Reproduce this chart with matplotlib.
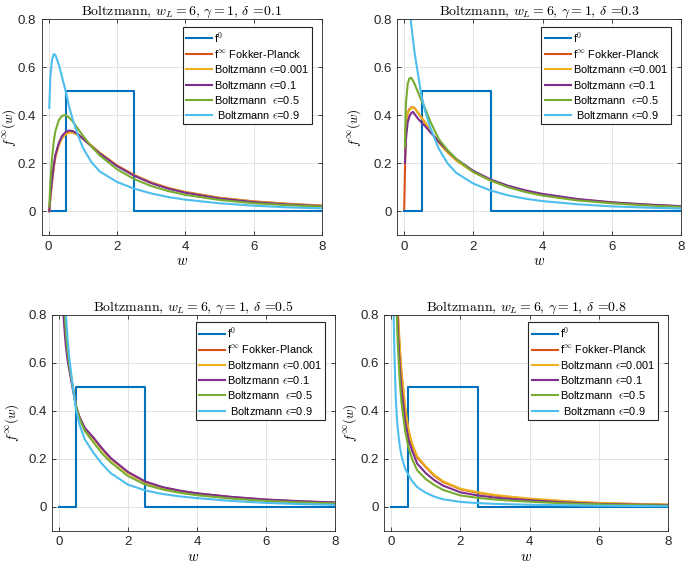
import numpy as np
import matplotlib
matplotlib.use("Agg")
import matplotlib.pyplot as plt
from matplotlib.ticker import FuncFormatter

plt.rcParams['font.family'] = ['Liberation Sans', 'DejaVu Sans']
plt.rcParams['mathtext.fontset'] = 'cm'
plt.rcParams['axes.unicode_minus'] = False

# initial datum f^0 (step function)
w0 = [0.0, 0.5, 0.5, 2.5, 2.5, 8.0]
f0 = [0.0, 0.0, 0.5, 0.5, 0.0, 0.0]

deltas = ["0.1", "0.3", "0.5", "0.8"]

# ---- delta = 0.1 ----
w_d1 = [0.02, 0.05, 0.1, 0.15, 0.2, 0.3, 0.4, 0.5, 0.6, 0.7, 0.85, 1.0, 1.25, 1.5, 2.0, 2.5, 3.0, 3.5, 4.0, 5.0, 6.0, 7.0, 8.0]
fp_d1 = [0.0, 0.058, 0.125, 0.185, 0.23, 0.28, 0.31, 0.325, 0.33, 0.33, 0.32, 0.303, 0.273, 0.243, 0.191, 0.151, 0.12, 0.097, 0.08, 0.056, 0.041, 0.031, 0.023]
e001_d1 = [0.0, 0.055, 0.12, 0.18, 0.225, 0.275, 0.305, 0.32, 0.327, 0.327, 0.318, 0.302, 0.272, 0.242, 0.19, 0.15, 0.119, 0.096, 0.079, 0.055, 0.04, 0.03, 0.022]
e01_d1 = [0.0, 0.06, 0.13, 0.19, 0.235, 0.285, 0.315, 0.33, 0.336, 0.334, 0.322, 0.303, 0.27, 0.24, 0.188, 0.148, 0.117, 0.094, 0.077, 0.053, 0.038, 0.028, 0.021]
e05_d1 = [0.02, 0.12, 0.22, 0.29, 0.335, 0.38, 0.398, 0.40, 0.39, 0.375, 0.345, 0.315, 0.27, 0.232, 0.175, 0.134, 0.105, 0.084, 0.068, 0.047, 0.033, 0.025, 0.019]
e09_d1 = [0.43, 0.56, 0.63, 0.655, 0.65, 0.61, 0.555, 0.50, 0.435, 0.385, 0.32, 0.265, 0.205, 0.165, 0.122, 0.094, 0.074, 0.059, 0.048, 0.033, 0.023, 0.016, 0.012]

# ---- delta = 0.3 ----
w_d3 = [0.0, 0.02, 0.05, 0.1, 0.15, 0.2, 0.25, 0.3, 0.4, 0.5, 0.6, 0.75, 1.0, 1.25, 1.5, 2.0, 2.5, 3.0, 3.5, 4.0, 5.0, 6.0, 7.0, 8.0]
fp_d3 = [0.01, 0.16, 0.36, 0.41, 0.425, 0.432, 0.433, 0.43, 0.41, 0.39, 0.37, 0.335, 0.287, 0.247, 0.213, 0.164, 0.129, 0.103, 0.084, 0.069, 0.049, 0.036, 0.027, 0.02]
e001_d3 = [np.nan, 0.2, 0.36, 0.41, 0.42, 0.43, 0.432, 0.43, 0.41, 0.39, 0.37, 0.335, 0.285, 0.245, 0.212, 0.163, 0.128, 0.102, 0.083, 0.068, 0.048, 0.035, 0.026, 0.02]
e01_d3 = [np.nan, 0.2, 0.3, 0.37, 0.395, 0.408, 0.414, 0.405, 0.385, 0.37, 0.355, 0.33, 0.29, 0.252, 0.218, 0.168, 0.132, 0.106, 0.087, 0.072, 0.051, 0.037, 0.028, 0.021]
e05_d3 = [np.nan, 0.27, 0.45, 0.53, 0.553, 0.556, 0.545, 0.53, 0.495, 0.46, 0.43, 0.375, 0.30, 0.255, 0.218, 0.163, 0.128, 0.1, 0.08, 0.065, 0.045, 0.033, 0.024, 0.018]
e09_d3 = [np.nan, 2.5, 1.6, 1.15, 0.9, 0.78, 0.72, 0.66, 0.57, 0.48, 0.42, 0.35, 0.26, 0.2, 0.16, 0.115, 0.086, 0.066, 0.052, 0.042, 0.029, 0.02, 0.015, 0.011]

# ---- delta = 0.5 ----
w_d5 = [0.02, 0.05, 0.1, 0.13, 0.15, 0.17, 0.2, 0.25, 0.3, 0.4, 0.5, 0.6, 0.75, 1.0, 1.25, 1.5, 2.0, 2.5, 3.0, 3.5, 4.0, 5.0, 6.0, 7.0, 8.0]
fp_d5 = [3.0, 1.6, 0.95, 0.84, 0.8, 0.76, 0.7, 0.63, 0.585, 0.5, 0.415, 0.37, 0.325, 0.285, 0.24, 0.2, 0.142, 0.103, 0.08, 0.066, 0.055, 0.04, 0.029, 0.022, 0.017]
e001_d5 = [3.0, 1.6, 0.95, 0.84, 0.8, 0.76, 0.7, 0.63, 0.585, 0.5, 0.415, 0.37, 0.325, 0.284, 0.239, 0.199, 0.141, 0.102, 0.079, 0.065, 0.054, 0.039, 0.028, 0.021, 0.016]
e01_d5 = [2.8, 1.5, 0.9, 0.8, 0.76, 0.72, 0.67, 0.61, 0.57, 0.49, 0.415, 0.372, 0.328, 0.288, 0.243, 0.203, 0.145, 0.105, 0.082, 0.067, 0.056, 0.041, 0.03, 0.023, 0.018]
e05_d5 = [3.0, 1.7, 1.0, 0.88, 0.84, 0.8, 0.73, 0.65, 0.59, 0.5, 0.415, 0.365, 0.315, 0.268, 0.222, 0.185, 0.128, 0.092, 0.072, 0.058, 0.048, 0.034, 0.024, 0.018, 0.014]
e09_d5 = [3.5, 2.0, 1.15, 0.98, 0.9, 0.86, 0.8, 0.7, 0.62, 0.5, 0.4, 0.34, 0.28, 0.225, 0.178, 0.14, 0.092, 0.068, 0.053, 0.043, 0.036, 0.024, 0.016, 0.011, 0.008]

# ---- delta = 0.8 ----
w_d8 = [0.02, 0.05, 0.07, 0.1, 0.13, 0.16, 0.18, 0.2, 0.25, 0.3, 0.4, 0.5, 0.6, 0.75, 1.0, 1.25, 1.5, 2.0, 2.5, 3.0, 3.5, 4.0, 5.0, 6.0, 7.0, 8.0]
fp_d8 = [4.0, 2.0, 1.6, 1.2, 1.0, 0.88, 0.83, 0.78, 0.65, 0.55, 0.41, 0.315, 0.26, 0.205, 0.165, 0.128, 0.103, 0.073, 0.058, 0.047, 0.039, 0.032, 0.022, 0.015, 0.011, 0.008]
e001_d8 = [4.0, 2.0, 1.6, 1.2, 1.0, 0.9, 0.85, 0.8, 0.66, 0.56, 0.42, 0.32, 0.265, 0.21, 0.168, 0.132, 0.106, 0.075, 0.06, 0.049, 0.041, 0.034, 0.024, 0.016, 0.012, 0.009]
e01_d8 = [3.5, 1.8, 1.4, 1.05, 0.92, 0.84, 0.8, 0.72, 0.58, 0.49, 0.36, 0.28, 0.235, 0.18, 0.14, 0.11, 0.088, 0.06, 0.047, 0.038, 0.032, 0.027, 0.018, 0.012, 0.009, 0.007]
e05_d8 = [3.2, 1.7, 1.3, 1.0, 0.88, 0.8, 0.72, 0.65, 0.52, 0.43, 0.32, 0.245, 0.2, 0.152, 0.115, 0.09, 0.07, 0.047, 0.037, 0.03, 0.025, 0.021, 0.014, 0.01, 0.007, 0.005]
e09_d8 = [2.0, 1.0, 0.8, 0.6, 0.46, 0.38, 0.34, 0.31, 0.25, 0.21, 0.16, 0.132, 0.108, 0.082, 0.058, 0.042, 0.031, 0.02, 0.015, 0.012, 0.01, 0.008, 0.006, 0.004, 0.003, 0.002]

panels = [
    (w_d1, fp_d1, e001_d1, e01_d1, e05_d1, e09_d1),
    (w_d3, fp_d3, e001_d3, e01_d3, e05_d3, e09_d3),
    (w_d5, fp_d5, e001_d5, e01_d5, e05_d5, e09_d5),
    (w_d8, fp_d8, e001_d8, e01_d8, e05_d8, e09_d8),
]

colors = ['#0072BD', '#D95319', '#EDB120', '#7E2F8E', '#77AC30', '#4DBEEE']
labels = ['f$^0$', 'f$^{\\infty}$ Fokker-Planck', 'Boltzmann $\\epsilon$=0.001',
          'Boltzmann $\\epsilon$=0.1', 'Boltzmann  $\\epsilon$=0.5', ' Boltzmann $\\epsilon$=0.9']

# axes rectangles [left, bottom, width, height] in figure fraction
rects = [
    [0.061, 0.583, 0.409, 0.383],
    [0.580, 0.583, 0.414, 0.383],
    [0.076, 0.059, 0.413, 0.383],
    [0.561, 0.059, 0.414, 0.383],
]
ylabel_x = [-0.085, -0.12, -0.11, -0.088]

fig = plt.figure(figsize=(6.85, 5.64), dpi=100)
titles = []

for k in range(4):
    ax = fig.add_axes(rects[k])
    w, fp, e1, e2, e3, e4 = panels[k]
    ax.plot(w0, f0, color=colors[0], lw=1.5, label=labels[0])
    ax.plot(w, fp, color=colors[1], lw=1.5, label=labels[1])
    ax.plot(w, e1, color=colors[2], lw=1.5, label=labels[2])
    ax.plot(w, e2, color=colors[3], lw=1.5, label=labels[3])
    ax.plot(w, e3, color=colors[4], lw=1.5, label=labels[4])
    ax.plot(w, e4, color=colors[5], lw=1.5, label=labels[5])

    ax.set_xlim(-0.2, 8)
    ax.set_ylim(-0.1, 0.8)
    ax.set_xticks([0, 2, 4, 6, 8])
    ax.set_yticks([0, 0.2, 0.4, 0.6, 0.8])
    ax.yaxis.set_major_formatter(FuncFormatter(lambda v, p: f'{v:g}'))
    ax.tick_params(direction='in', length=3, width=0.6, labelsize=9.5,
                   top=True, right=True, colors='#262626', pad=4)
    ax.grid(True, color='#e3e3e3', lw=0.7)
    ax.set_axisbelow(True)
    for s in ax.spines.values():
        s.set_color('#262626')
        s.set_linewidth(0.6)

    t = ax.set_title('Boltzmann, $w_L = 6$, $\\gamma = 1$, $\\delta$ =' + deltas[k],
                     fontsize=10, family='cmr10', pad=3)
    titles.append(t)
    ax.set_xlabel('$w$', fontsize=10.5, labelpad=1)
    ax.set_ylabel('$f^{\\infty}(w)$', fontsize=9.6)
    ax.yaxis.set_label_coords(ylabel_x[k], 0.5)

    leg = ax.legend(loc='upper right', bbox_to_anchor=(0.965, 0.965), borderaxespad=0,
                    fontsize=7.9, fancybox=False, framealpha=1, edgecolor='#262626',
                    handlelength=2.4, handletextpad=0.15, labelspacing=0.3,
                    borderpad=0.3)
    leg.get_frame().set_linewidth(0.8)

# fit title width to about 201 px, as in the reference
fig.canvas.draw()
for t in titles:
    bw = t.get_window_extent().width
    t.set_fontsize(10 * 201.0 / bw)

plt.savefig('out.png', dpi=100)
